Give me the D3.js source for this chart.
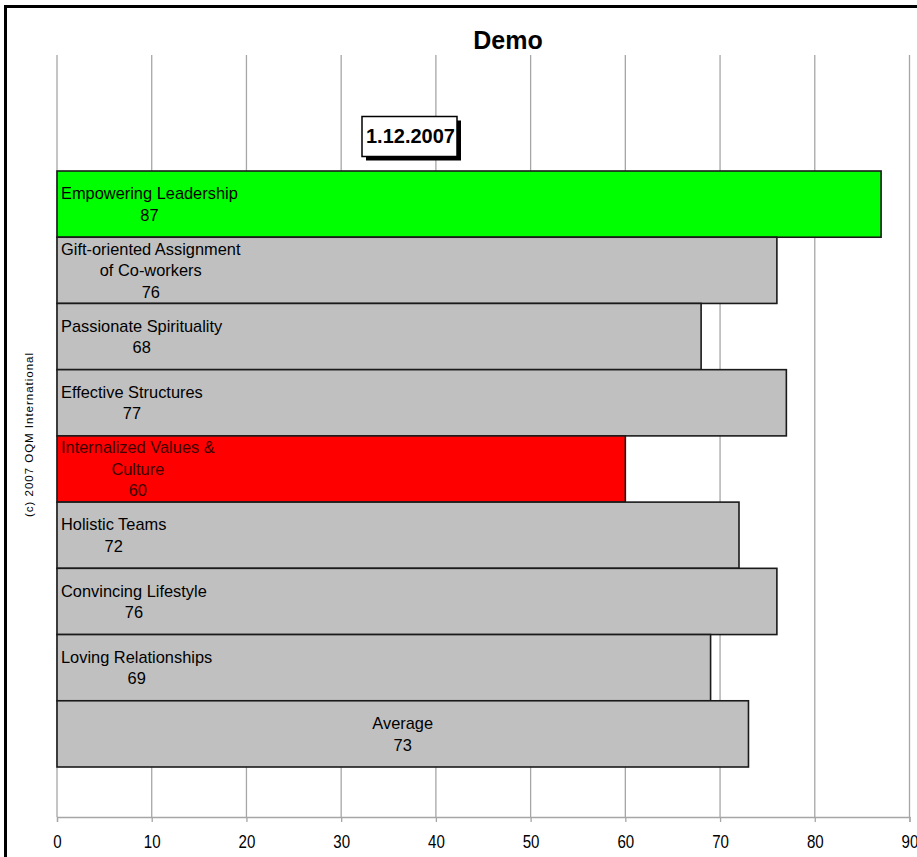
<!DOCTYPE html>
<html>
<head>
<meta charset="utf-8">
<script src="https://cdn.jsdelivr.net/npm/d3@7"></script>
<style>
  html, body { margin: 0; padding: 0; background: #fff; }
  svg { display: block; font-family: Arial, "Liberation Sans", sans-serif; }
</style>
</head>
<body>
<svg id="chart" width="917" height="857"></svg>
<script>
// ---- data ----
const categories = [
  "Empowering Leadership",
  "Gift-oriented Assignment of Co-workers",
  "Passionate Spirituality",
  "Effective Structures",
  "Internalized Values & Culture",
  "Holistic Teams",
  "Convincing Lifestyle",
  "Loving Relationships",
  "Average"
];
const labelLines = [
  ["Empowering Leadership"],
  ["Gift-oriented Assignment", "of Co-workers"],
  ["Passionate Spirituality"],
  ["Effective Structures"],
  ["Internalized Values &", "Culture"],
  ["Holistic Teams"],
  ["Convincing Lifestyle"],
  ["Loving Relationships"],
  ["Average"]
];
const values = [87, 76, 68, 77, 60, 72, 76, 69, 73];
const xTicks = [0, 10, 20, 30, 40, 50, 60, 70, 80, 90];
const titleText = "Demo";
const dateText = "1.12.2007";
const copyrightText = "(c) 2007 OQM International";

// ---- layout ----
const svg = d3.select("#chart");
const x = d3.scaleLinear().domain([0, 90]).range([57, 909.5]);
const y = d3.scaleBand().domain(categories).range([171, 767]).paddingInner(0).paddingOuter(0);
const gridTop = 55, axisY = 817;

// frame
svg.append("rect").attr("x", 5.5).attr("y", 6.5).attr("width", 1000).attr("height", 1000)
  .attr("fill", "none").attr("stroke", "#000").attr("stroke-width", 3);

// gridlines
svg.append("g").selectAll("line").data(xTicks).join("line")
  .attr("x1", d => x(d)).attr("x2", d => x(d))
  .attr("y1", gridTop).attr("y2", axisY)
  .attr("stroke", "#a6a6a6").attr("stroke-width", 1.3);

// axis
const axis = d3.axisBottom(x).tickValues(xTicks).tickSize(5).tickPadding(13).tickFormat(d3.format("d"));
const gAxis = svg.append("g").attr("transform", `translate(0,${axisY})`).call(axis);
gAxis.select(".domain").attr("stroke", "#a6a6a6").attr("stroke-width", 1.3);
gAxis.selectAll(".tick line").attr("stroke", "#a6a6a6").attr("stroke-width", 1.3);
gAxis.selectAll(".tick text")
  .attr("font-family", "Arial, 'Liberation Sans', sans-serif")
  .attr("font-size", 18).attr("fill", "#000")
  .attr("transform", "scale(0.84,1)")
  .attr("x", 0);
// keep labels centred on the tick after horizontal condensing
gAxis.selectAll(".tick").each(function(d) {
  const g = d3.select(this);
  g.select("text").attr("transform", null).attr("textLength", null);
  g.select("text").attr("transform", "scale(0.84,1)");
});

// bars
const specials = values.slice(0, values.length - 1);
const maxV = d3.max(specials), minV = d3.min(specials);
function barColor(d, i) {
  if (i < values.length - 1 && d === maxV) return "#00ff00";
  if (i < values.length - 1 && d === minV) return "#ff0000";
  return "#c0c0c0";
}
svg.append("g").selectAll("rect").data(values).join("rect")
  .attr("x", x(0))
  .attr("y", (d, i) => y(categories[i]))
  .attr("width", d => x(d) - x(0))
  .attr("height", y.bandwidth())
  .attr("fill", barColor)
  .attr("stroke", "#1a1a1a").attr("stroke-width", 1.6);

// bar labels
const fs = 16.4, lh = 21.5;
const labG = svg.append("g");
values.forEach((v, i) => {
  const lines = labelLines[i].concat([String(v)]);
  const isAvg = i === values.length - 1;
  const color = barColor(v, i) === "#ff0000" ? "#3a0000" : "#000";
  const t = labG.append("text").attr("font-size", fs).attr("fill", color).attr("text-anchor", "middle");
  const cy = y(categories[i]) + y.bandwidth() / 2;
  const first = cy - (lines.length - 1) / 2 * lh + fs * 0.36;
  const spans = lines.map((ln, k) => t.append("tspan").attr("y", first + k * lh).text(ln));
  let cx;
  if (isAvg) {
    cx = (x(0) + x(v)) / 2;
  } else {
    const w = d3.max(spans, s => s.node().getComputedTextLength());
    cx = 61 + w / 2;
  }
  spans.forEach(s => s.attr("x", cx));
});

// title
svg.append("text").attr("x", 508).attr("y", 49).attr("text-anchor", "middle")
  .attr("font-size", 25).attr("font-weight", "bold").text(titleText);

// date box
const bx = 362, by = 116.5, bw = 95, bh = 40;
svg.append("rect").attr("x", bx + 4).attr("y", by + 4).attr("width", bw).attr("height", bh).attr("fill", "#000");
svg.append("rect").attr("x", bx).attr("y", by).attr("width", bw).attr("height", bh)
  .attr("fill", "#fff").attr("stroke", "#000").attr("stroke-width", 1.5);
svg.append("text").attr("x", bx + bw / 2 + 1).attr("y", 142.5).attr("text-anchor", "middle")
  .attr("font-size", 20).attr("font-weight", "bold").text(dateText);

// copyright
svg.append("text").attr("transform", "translate(33,435) rotate(-90)")
  .attr("text-anchor", "middle").attr("font-size", 11.5)
  .attr("textLength", 164).attr("lengthAdjust", "spacing")
  .text(copyrightText);
</script>
</body>
</html>
